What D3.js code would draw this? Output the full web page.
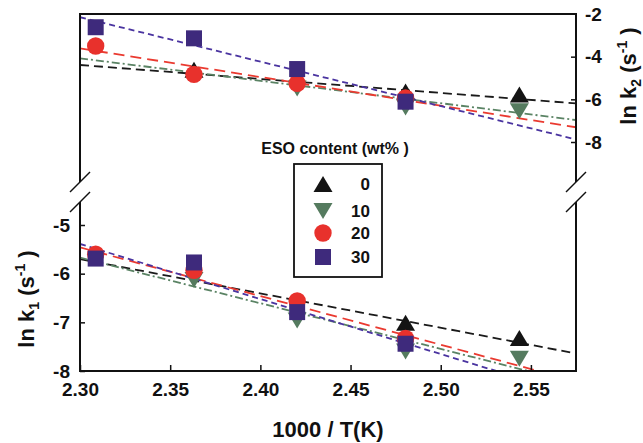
<!DOCTYPE html>
<html>
<head>
<meta charset="utf-8">
<script src="https://cdn.jsdelivr.net/npm/d3@7"></script>
<style>
  body { margin: 0; background: #fff; }
  text { font-family: Arial, "Liberation Sans", sans-serif; font-weight: bold; fill: #111; }
</style>
</head>
<body>
<svg id="chart" width="643" height="443"></svg>
<script>
// 1000/T (K^-1) for 160, 150, 140, 130 and 120 °C
const invTemp = [2.3087, 2.3632, 2.4204, 2.4805, 2.5436];

// ESO content (wt%) of each series
const esoContent = ["0", "10", "20", "30"];

// ln k1 (lower panel); null where no marker is shown
const lnK1_0  = [null, null, null, -7.01, -7.32];
const lnK1_10 = [null, -6.13, -6.96, -7.60, -7.75];
const lnK1_20 = [-5.60, -5.93, -6.56, -7.33, null];
const lnK1_30 = [-5.69, -5.77, -6.79, -7.44, null];

// ln k2 (upper panel)
const lnK2_0  = [null, -4.61, null, -5.63, -5.77];
const lnK2_10 = [null, null, -5.49, -6.38, -6.56];
const lnK2_20 = [-3.50, -4.83, -5.25, -5.93, null];
const lnK2_30 = [-2.62, -3.14, -4.58, -6.11, null];

// Arrhenius fit lines: ln k at 1000/T = 2.300 and 2.575
const fitK1_0  = [-5.70, -7.64];
const fitK1_10 = [-5.67, -8.25];
const fitK1_20 = [-5.46, -8.21];
const fitK1_30 = [-5.39, -8.50];
const fitK2_0  = [-4.39, -6.19];
const fitK2_10 = [-4.08, -6.97];
const fitK2_20 = [-3.61, -7.31];
const fitK2_30 = [-2.15, -7.88];

// axis ticks
const xTicks = [2.30, 2.35, 2.40, 2.45, 2.50, 2.55];
const k1Ticks = [-5, -6, -7, -8];
const k2Ticks = [-2, -4, -6, -8];
const fitRange = [2.300, 2.575];

const k1Sets = [lnK1_0, lnK1_10, lnK1_20, lnK1_30];
const k2Sets = [lnK2_0, lnK2_10, lnK2_20, lnK2_30];
const k1Fits = [fitK1_0, fitK1_10, fitK1_20, fitK1_30];
const k2Fits = [fitK2_0, fitK2_10, fitK2_20, fitK2_30];

const markerColor = ["#141414", "#557b5f", "#e8312c", "#3e2a7c"];
const lineColor   = ["#1a1a1a", "#5a8364", "#ea3a30", "#4a34a0"];
const lineDash    = ["9,5", "8,3,2,3", "11,6", "6,4"];
const shapes      = ["up", "down", "circle", "square"];

const L = 80, R = 576, T = 14, B = 371;
const breakTop = 182, breakBot = 202;

const svg = d3.select("#chart");

const x = d3.scaleLinear().domain([2.30, 2.575]).range([L, R]);
const yTop = d3.scaleLinear().domain([-2, -8]).range([T, 142]);
const yBot = d3.scaleLinear().domain([-5, -8]).range([225, B]);

// clip regions for the two panels
const defs = svg.append("defs");
defs.append("clipPath").attr("id", "clipTop")
  .append("rect").attr("x", L).attr("y", T).attr("width", R - L).attr("height", breakTop - T);
defs.append("clipPath").attr("id", "clipBot")
  .append("rect").attr("x", L).attr("y", breakBot).attr("width", R - L).attr("height", B - breakBot);

function markerPath(shape) {
  const p = d3.path();
  if (shape === "up") {
    p.moveTo(0, -8); p.lineTo(9.5, 8); p.lineTo(-9.5, 8); p.closePath();
  } else if (shape === "down") {
    p.moveTo(0, 8); p.lineTo(9.5, -8); p.lineTo(-9.5, -8); p.closePath();
  } else if (shape === "circle") {
    p.arc(0, 0, 8.7, 0, 2 * Math.PI);
  } else {
    p.rect(-8, -8, 16, 16);
  }
  return p.toString();
}

function drawPanel(sets, fits, y, clipId) {
  const g = svg.append("g");
  const lines = g.append("g").attr("clip-path", `url(#${clipId})`);
  fits.forEach((f, i) => {
    lines.append("line")
      .attr("x1", x(fitRange[0])).attr("y1", y(f[0]))
      .attr("x2", x(fitRange[1])).attr("y2", y(f[1]))
      .attr("stroke", lineColor[i]).attr("stroke-width", 1.8)
      .attr("stroke-dasharray", lineDash[i]);
  });
  sets.forEach((vals, i) => {
    const pts = invTemp.map((t, j) => ({ t, v: vals[j] })).filter(d => d.v !== null);
    g.append("g").selectAll("path").data(pts).join("path")
      .attr("d", markerPath(shapes[i]))
      .attr("transform", d => `translate(${x(d.t)},${y(d.v)})`)
      .attr("fill", markerColor[i]);
  });
}

drawPanel(k2Sets, k2Fits, yTop, "clipTop");
drawPanel(k1Sets, k1Fits, yBot, "clipBot");

// axes
const fmt = d => String(d);
const xAxis = svg.append("g").attr("transform", `translate(0,${B})`)
  .call(d3.axisBottom(x).tickValues(xTicks).tickFormat(d3.format(".2f")).tickSize(-6).tickPadding(12));
const leftAxis = svg.append("g").attr("transform", `translate(${L},0)`)
  .call(d3.axisLeft(yBot).tickValues(k1Ticks).tickFormat(fmt).tickSize(-5).tickPadding(10));
const rightAxis = svg.append("g").attr("transform", `translate(${R},0)`)
  .call(d3.axisRight(yTop).tickValues(k2Ticks).tickFormat(fmt).tickSize(-5).tickPadding(9));
[xAxis, leftAxis, rightAxis].forEach(a => {
  a.select(".domain").remove();
  a.selectAll(".tick line").attr("stroke", "#111").attr("stroke-width", 1.5);
  a.selectAll(".tick text").attr("font-size", 19).attr("font-family", null).style("fill", "#111");
});
rightAxis.selectAll(".tick").filter(d => d === -2).select("line").remove();

// frame with axis breaks
const frame = svg.append("g").attr("stroke", "#111").attr("stroke-width", 2).attr("fill", "none");
frame.append("path").attr("d",
  `M${L},${breakTop}V${T}H${R}V${breakTop}` +
  `M${L},${breakBot}V${B}H${R}V${breakBot}`);
[L, R].forEach(xx => {
  [breakTop, breakBot].forEach(yy => {
    frame.append("line")
      .attr("x1", xx - 10).attr("y1", yy + 10)
      .attr("x2", xx + 10).attr("y2", yy - 10)
      .attr("stroke-width", 1.5);
  });
});

// axis titles
svg.append("text").attr("x", 328).attr("y", 437).attr("text-anchor", "middle")
  .attr("font-size", 22).text("1000 / T(K)");

function rateTitle(tx, ty, sub) {
  const t = svg.append("text")
    .attr("transform", `translate(${tx},${ty}) rotate(-90)`)
    .attr("text-anchor", "middle").attr("font-size", 22);
  t.append("tspan").text("ln k");
  t.append("tspan").attr("font-size", 14).attr("dy", 5).text(sub);
  t.append("tspan").attr("dy", -5).text("\u00a0(s");
  t.append("tspan").attr("font-size", 14).attr("dy", -9).text("-1");
  t.append("tspan").attr("dy", 9).text("\u00a0)");
}
rateTitle(34, 299, "1");
rateTitle(636, 76, "2");

// legend
svg.append("text").attr("x", 335).attr("y", 154).attr("text-anchor", "middle")
  .attr("font-size", 16).text("ESO content (wt% )");
svg.append("rect").attr("x", 294).attr("y", 164).attr("width", 88).attr("height", 113)
  .attr("fill", "#fff").attr("stroke", "#111").attr("stroke-width", 1.8);
const legendRows = [184, 211, 233, 257];
esoContent.forEach((c, i) => {
  svg.append("path").attr("d", markerPath(shapes[i]))
    .attr("transform", `translate(323,${legendRows[i]})`)
    .attr("fill", markerColor[i]);
  svg.append("text").attr("x", 370).attr("y", legendRows[i] + 6)
    .attr("text-anchor", "end").attr("font-size", 17).text(c);
});
</script>
</body>
</html>
